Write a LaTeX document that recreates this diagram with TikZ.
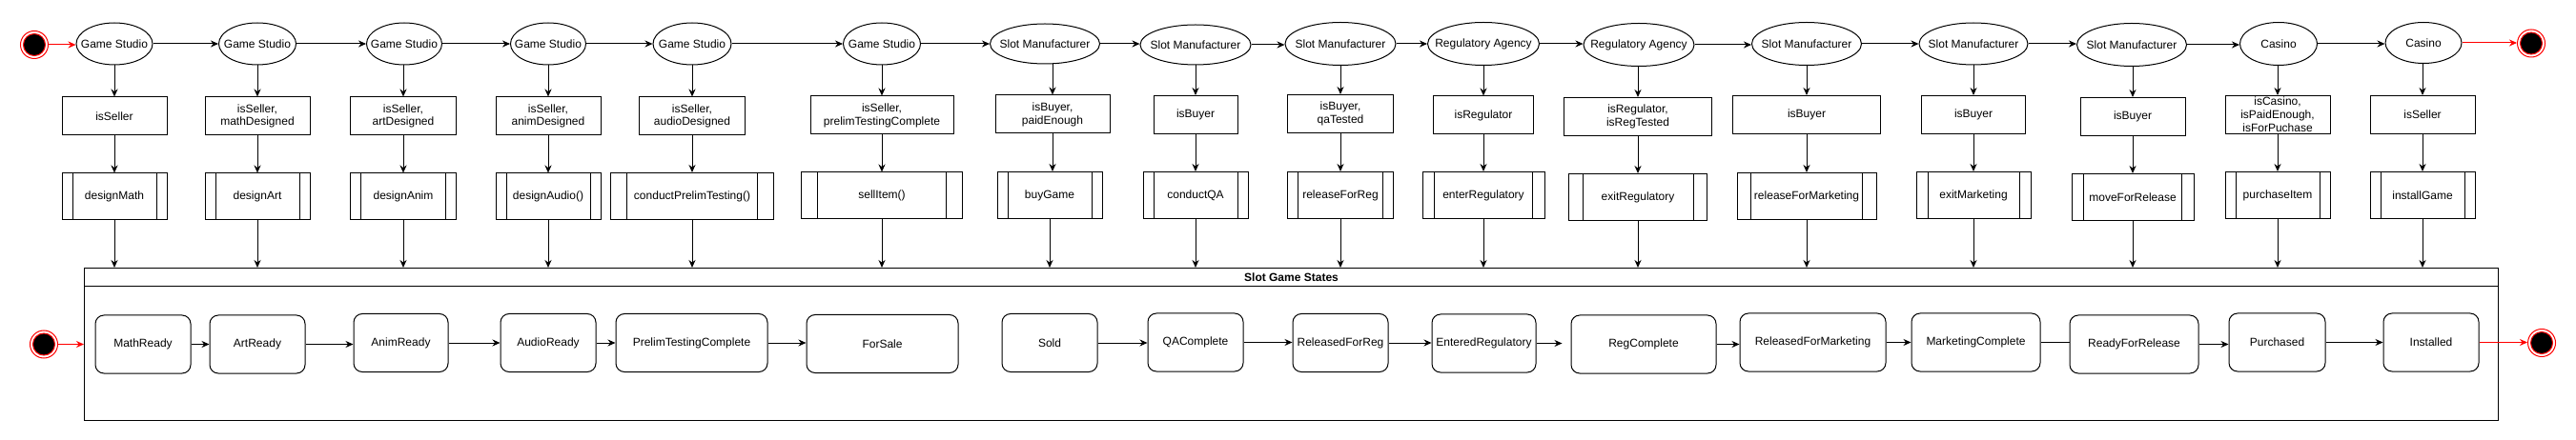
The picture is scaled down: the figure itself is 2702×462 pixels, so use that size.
\documentclass[tikz,border=0pt]{standalone}
\usepackage{fontspec}
\setmainfont{Liberation Sans}
\usetikzlibrary{arrows.meta,shapes.geometric,calc}
\newcommand{\zerowd}[1]{\makebox[0pt][c]{#1}}
\begin{document}
\begin{tikzpicture}[x=1pt,y=-1pt,
  base/.style={font=\fontsize{12}{13.8}\selectfont, inner sep=0pt, align=center, line width=1pt, draw=black},
  actor/.style={base, ellipse, minimum height=44pt},
  guard/.style={base, rectangle, minimum height=40pt},
  proc/.style={base, rectangle, minimum height=49pt,
    path picture={
      \draw[line width=1pt] let \p1=(path picture bounding box.south west), \p2=(path picture bounding box.north east) in
        (\x1*0.9+\x2*0.1,\y1) -- (\x1*0.9+\x2*0.1,\y2)
        (\x1*0.1+\x2*0.9,\y1) -- (\x1*0.1+\x2*0.9,\y2);
    }},
  stbox/.style={base, rounded corners=9pt, minimum height=61pt},
  arr/.style={line width=1pt, -{Stealth[length=8pt,width=7pt]}},
  redarr/.style={arr, draw=red, color=red},
  link/.style={line width=1pt},
  outerdot/.style={circle, draw=red, fill=white, line width=1pt, minimum size=29pt, inner sep=0pt},
  innerdot/.style={draw=red, fill=black, line width=1pt},
  pooltitle/.style={font=\fontsize{12}{13.8}\selectfont\bfseries, inner sep=0pt},
]
\useasboundingbox (0,0) rectangle (2702,462);

% ---------- start / end markers ----------
\node[outerdot] (start1) at (36,47) {};
\draw[innerdot] (start1.center) circle[radius=11.5pt];
\node[outerdot] (end1) at (2655,45.5) {};
\draw[innerdot] (end1.center) circle[radius=11.5pt];
\node[outerdot] (start2) at (46,361.5) {};
\draw[innerdot] (start2.center) circle[radius=11.5pt];
\node[outerdot] (end2) at (2666,360) {};
\draw[innerdot] (end2.center) circle[radius=11.5pt];

% ---------- actors ----------
\node[actor, minimum width=80pt] (e1) at (120,46) {\zerowd{Game Studio}};
\node[actor, minimum width=81pt] (e2) at (270,46) {\zerowd{Game Studio}};
\node[actor, minimum width=79pt] (e3) at (424,46) {\zerowd{Game Studio}};
\node[actor, minimum width=79pt] (e4) at (575,46) {\zerowd{Game Studio}};
\node[actor, minimum width=82pt] (e5) at (726,46) {\zerowd{Game Studio}};
\node[actor, minimum width=81pt] (e6) at (925,46) {\zerowd{Game Studio}};
\node[actor, minimum width=115pt, minimum height=42pt] (e7) at (1096,46) {\zerowd{Slot Manufacturer}};
\node[actor, minimum width=116pt, minimum height=42pt] (e8) at (1254,47) {\zerowd{Slot Manufacturer}};
\node[actor, minimum width=116pt, minimum height=45pt] (e9) at (1406,46) {\zerowd{Slot Manufacturer}};
\node[actor, minimum width=117pt, minimum height=45pt] (e10) at (1556,46) {\zerowd{Regulatory Agency}};
\node[actor, minimum width=116pt, minimum height=45pt] (e11) at (1719,47) {\zerowd{Regulatory Agency}};
\node[actor, minimum width=115pt, minimum height=45pt] (e12) at (1895,46) {\zerowd{Slot Manufacturer}};
\node[actor, minimum width=114pt] (e13) at (2070,46) {\zerowd{Slot Manufacturer}};
\node[actor, minimum width=115pt, minimum height=45pt] (e14) at (2236,47) {\zerowd{Slot Manufacturer}};
\node[actor, minimum width=81pt, minimum height=45pt] (e15) at (2390,46) {\zerowd{Casino}};
\node[actor, minimum width=80pt, minimum height=43pt] (e16) at (2542,45) {\zerowd{Casino}};

% ---------- guards ----------
\node[guard, minimum width=110pt] (c1) at (120,122) {isSeller};
\node[guard, minimum width=110pt] (c2) at (270,122) {isSeller,\\mathDesigned};
\node[guard, minimum width=111pt] (c3) at (423,122) {isSeller,\\artDesigned};
\node[guard, minimum width=110pt] (c4) at (575,122) {isSeller,\\animDesigned};
\node[guard, minimum width=111pt] (c5) at (726,122) {isSeller,\\audioDesigned};
\node[guard, minimum width=150pt] (c6) at (925,121) {isSeller,\\prelimTestingComplete};
\node[guard, minimum width=120pt] (c7) at (1104,120) {isBuyer,\\paidEnough};
\node[guard, minimum width=88pt] (c8) at (1254,120.5) {isBuyer};
\node[guard, minimum width=111pt] (c9) at (1406,119.5) {isBuyer,\\qaTested};
\node[guard, minimum width=105pt] (c10) at (1556,121) {isRegulator};
\node[guard, minimum width=155pt] (c11) at (1718,122.5) {isRegulator,\\isRegTested};
\node[guard, minimum width=155pt] (c12) at (1895,120.5) {isBuyer};
\node[guard, minimum width=109pt] (c13) at (2070,120.5) {isBuyer};
\node[guard, minimum width=110pt] (c14) at (2237,122.5) {isBuyer};
\node[guard, minimum width=110pt] (c15) at (2389,120.5) {isCasino,\\isPaidEnough,\\isForPuchase};
\node[guard, minimum width=110pt] (c16) at (2541,120.5) {isSeller};

% ---------- actions ----------
\node[proc, minimum width=110pt] (a1) at (120,206.5) {designMath};
\node[proc, minimum width=110pt] (a2) at (270,206.5) {designArt};
\node[proc, minimum width=111pt] (a3) at (423,206.5) {designAnim};
\node[proc, minimum width=110pt] (a4) at (575,206.5) {designAudio()};
\node[proc, minimum width=171pt] (a5) at (726,206) {conductPrelimTesting()};
\node[proc, minimum width=169pt] (a6) at (925,205.5) {sellItem()};
\node[proc, minimum width=110pt] (a7) at (1101,205) {buyGame};
\node[proc, minimum width=110pt] (a8) at (1254,205) {conductQA};
\node[proc, minimum width=111pt] (a9) at (1406,205) {releaseForReg};
\node[proc, minimum width=128pt] (a10) at (1556,205) {enterRegulatory};
\node[proc, minimum width=145pt] (a11) at (1718,207) {exitRegulatory};
\node[proc, minimum width=146pt] (a12) at (1895,206) {releaseForMarketing};
\node[proc, minimum width=120pt] (a13) at (2070,205) {exitMarketing};
\node[proc, minimum width=128pt] (a14) at (2237,207) {moveForRelease};
\node[proc, minimum width=110pt] (a15) at (2389,205) {purchaseItem};
\node[proc, minimum width=110pt] (a16) at (2541,205) {installGame};

% ---------- pool ----------
\node[draw, line width=1pt, inner sep=0pt, minimum width=2532pt, minimum height=160pt, anchor=north west] (pool) at (88,281) {};
\draw[link] ([yshift=-20pt]pool.north west) -- ([yshift=-20pt]pool.north east);
\node[pooltitle] (pooltxt) at ([yshift=-10pt]pool.north) {Slot Game States};

% ---------- states ----------
\node[stbox, minimum width=100pt] (s1) at (150,361.5) {MathReady};
\node[stbox, minimum width=100pt] (s2) at (270,361.5) {ArtReady};
\node[stbox, minimum width=99pt] (s3) at (420.5,360) {AnimReady};
\node[stbox, minimum width=100pt] (s4) at (575,360) {AudioReady};
\node[stbox, minimum width=159pt] (s5) at (725.5,360) {PrelimTestingComplete};
\node[stbox, minimum width=159pt] (s6) at (925.5,361) {ForSale};
\node[stbox, minimum width=100pt] (s7) at (1101,360) {Sold};
\node[stbox, minimum width=100pt] (s8) at (1254,359.5) {QAComplete};
\node[stbox, minimum width=100pt] (s9) at (1406,360) {ReleasedForReg};
\node[stbox, minimum width=109pt] (s10) at (1556.5,360.5) {EnteredRegulatory};
\node[stbox, minimum width=152pt] (s11) at (1724,361.5) {RegComplete};
\node[stbox, minimum width=153pt] (s12) at (1901.5,359.5) {ReleasedForMarketing};
\node[stbox, minimum width=135pt] (s13) at (2072.5,359.5) {MarketingComplete};
\node[stbox, minimum width=135pt] (s14) at (2238.5,361.5) {ReadyForRelease};
\node[stbox, minimum width=101pt] (s15) at (2388.5,359.5) {Purchased};
\node[stbox, minimum width=100pt] (s16) at (2550,359.5) {Installed};

% ---------- top row connectors ----------
\draw[redarr] (start1.east) -- (start1.east -| e1.west);
\foreach \i/\j in {1/2,2/3,3/4,4/5,5/6,6/7,7/8,8/9,9/10,10/11,11/12,12/13,13/14,14/15,15/16}
  \draw[arr] (e\i.east) -- (e\i.east -| e\j.west);
\draw[redarr] (e16.east) -- (e16.east -| end1.west);

% ---------- vertical connectors ----------
\foreach \i in {1,...,16}{
  \draw[arr] (e\i.south -| c\i.north) -- (c\i.north);
  \draw[arr] (c\i.south) -- (c\i.south |- a\i.north);
  \draw[arr] (a\i.south) -- (a\i.south |- pool.north);
}

% ---------- state transitions ----------
\draw[redarr] (start2.east) -- (start2.east -| pool.west);
\foreach \i/\j in {1/2,2/3,3/4,4/5,5/6,7/8,8/9,9/10,11/12,12/13,14/15,15/16}
  \draw[arr] (s\i.east) -- (s\i.east -| s\j.west);
\draw[arr, shorten >=9pt] (s10.east) -- (s10.east -| s11.west);
\draw[link] (s13.east) -- (s13.east -| s14.west);
\draw[redarr] (s16.east) -- (s16.east -| end2.west);
\end{tikzpicture}
\end{document}
